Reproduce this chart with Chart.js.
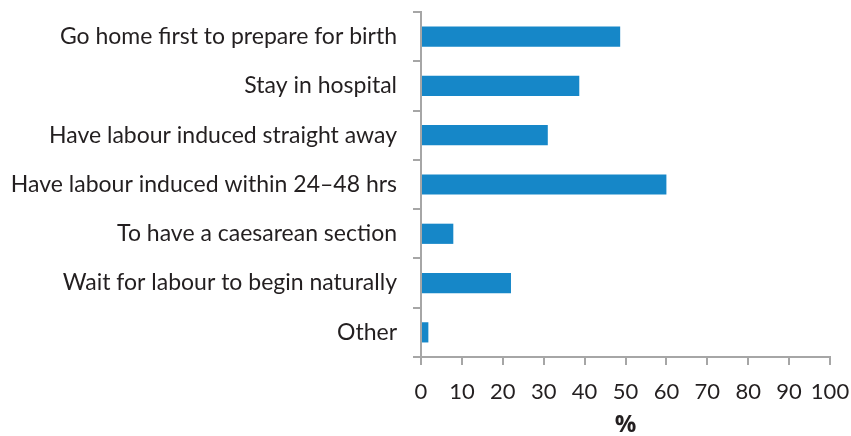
<!DOCTYPE html>
<html>
<head>
<meta charset="utf-8">
<script src="https://cdn.jsdelivr.net/npm/chart.js@4"></script>
<style>
  html, body { margin: 0; padding: 0; background: #fff; }
  #wrap { width: 851px; height: 436px; }
</style>
</head>
<body>
<div id="wrap"><canvas id="barChart"></canvas></div>
<script>
var categories = [
  "Go home first to prepare for birth",
  "Stay in hospital",
  "Have labour induced straight away",
  "Have labour induced within 24\u201348 hrs",
  "To have a caesarean section",
  "Wait for labour to begin naturally",
  "Other"
];
var percentValues = [48.7, 38.7, 31, 60, 7.9, 22, 1.8];
var xTicks = [0, 10, 20, 30, 40, 50, 60, 70, 80, 90, 100];

var axisGrey = "#a6a6a6";
var textColor = "#231f20";
var fontFamily = "Lato, 'Open Sans', sans-serif";

var ctx = document.getElementById("barChart").getContext("2d");
var myChart = new Chart(ctx, {
  type: "bar",
  data: {
    labels: categories,
    datasets: [
      {
        label: "%",
        data: percentValues,
        backgroundColor: "rgb(22, 135, 200)",
        borderWidth: 0,
        barPercentage: 0.41,
        categoryPercentage: 1,
      },
    ],
  },
  options: {
    indexAxis: "y",
    responsive: true,
    maintainAspectRatio: false,
    animation: false,
    layout: { padding: 0 },
    plugins: {
      legend: { display: false },
      tooltip: { enabled: false },
    },
    scales: {
      x: {
        min: 0,
        max: 100,
        afterBuildTicks: function (scale) {
          scale.ticks = xTicks.map(function (v) { return { value: v }; });
        },
        afterFit: function (scale) {
          scale.height = 79;
          scale.paddingRight = 21;
        },
        border: { color: axisGrey, width: 2 },
        grid: { drawOnChartArea: false, color: axisGrey, lineWidth: 2, tickLength: 8 },
        ticks: { color: textColor, padding: 14, maxRotation: 0, font: { family: fontFamily, size: 22 } },
        title: {
          display: true,
          text: "%",
          color: textColor,
          padding: { top: 0, bottom: -4 },
          font: { family: "'Open Sans', sans-serif", size: 24, weight: "bold" },
        },
      },
      y: {
        afterFit: function (scale) {
          scale.width = 421;
          scale.paddingTop = 12;
        },
        border: { color: axisGrey, width: 2 },
        grid: { drawOnChartArea: false, color: axisGrey, lineWidth: 2, tickLength: 8, offset: true },
        ticks: { color: textColor, padding: 16, font: { family: fontFamily, size: 23 } },
      },
    },
  },
});
</script>
</body>
</html>
